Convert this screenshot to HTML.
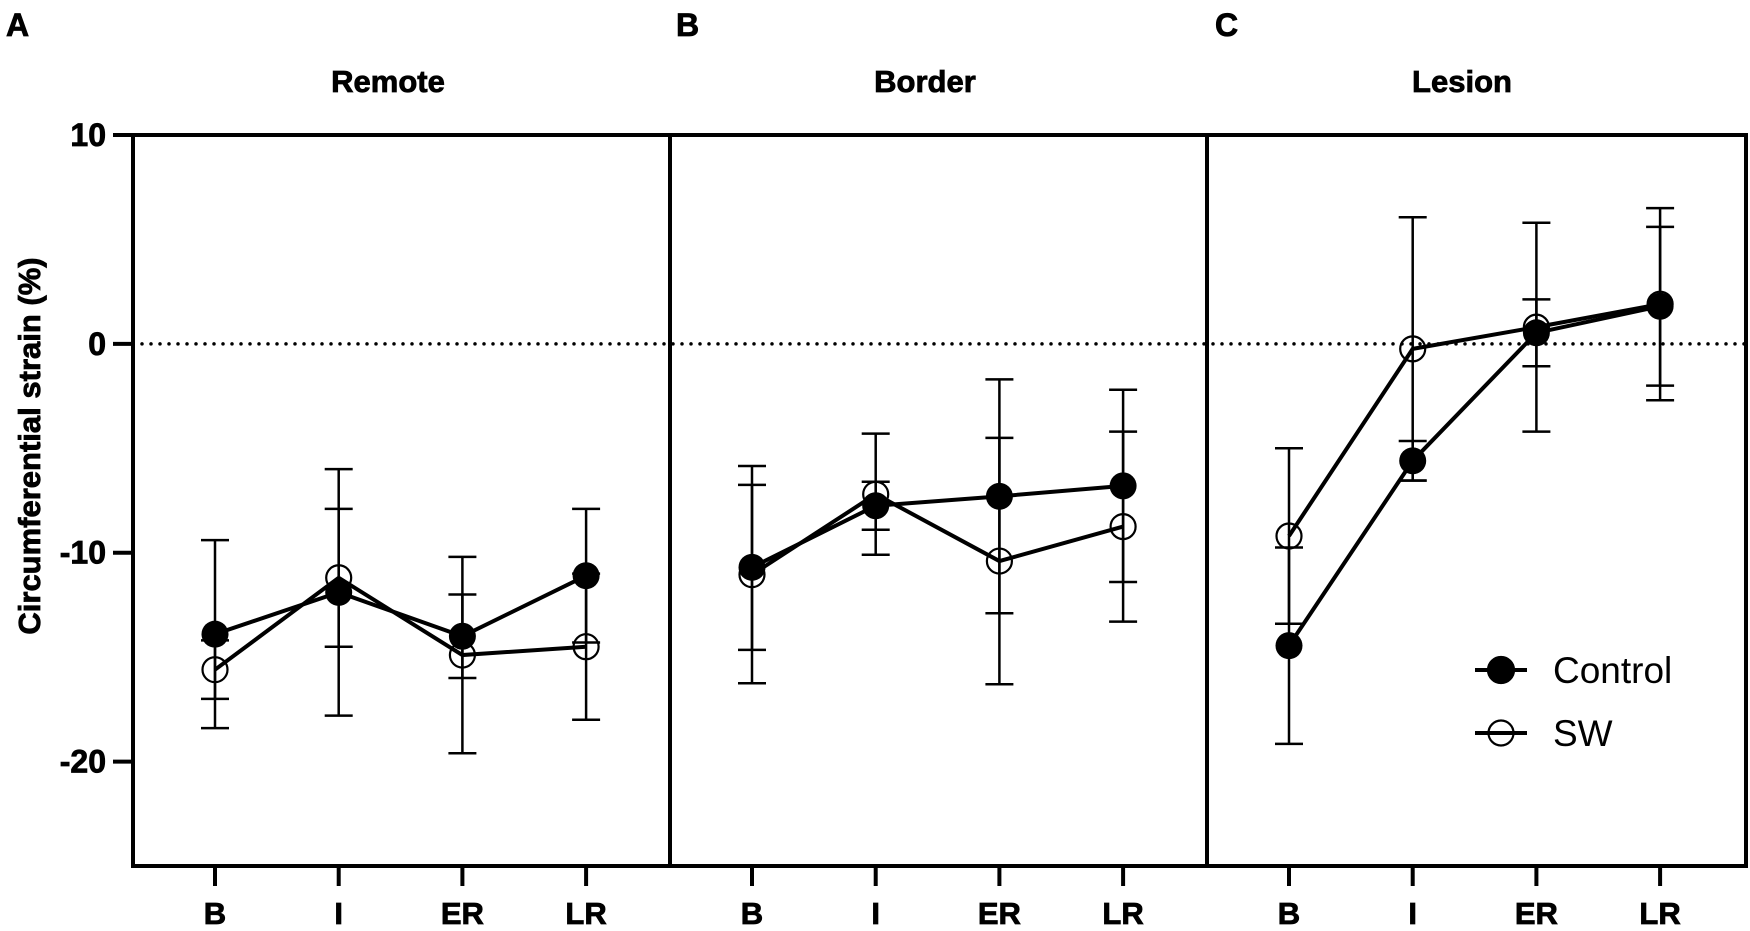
<!DOCTYPE html>
<html><head><meta charset="utf-8">
<style>
html,body{margin:0;padding:0;background:#fff;}
svg{display:block;font-family:"Liberation Sans",Arial,sans-serif;}
</style></head>
<body>
<svg id="chart" width="1750" height="931" viewBox="0 0 1750 931" xmlns="http://www.w3.org/2000/svg"></svg>
<script>
const categories = ["B","I","ER","LR"];
const panelTitles = ["Remote","Border","Lesion"];
const panelLetters = ["A","B","C"];
const yTicks = [10,0,-10,-20];
const controlMeans = [[-13.9,-11.9,-14.0,-11.1],[-10.7,-7.75,-7.3,-6.8],[-14.45,-5.6,0.53,1.8]];
const controlErr   = [[4.5,5.9,2.0,3.2],[3.95,1.15,5.6,4.6],[4.7,0.95,1.6,3.8]];
const swMeans      = [[-15.6,-11.2,-14.9,-14.5],[-11.05,-7.2,-10.4,-8.75],[-9.2,-0.24,0.8,1.9]];
const swErr        = [[1.4,3.3,4.7,3.5],[5.2,2.9,5.9,4.55],[4.2,6.3,5.0,4.6]];

const NS="http://www.w3.org/2000/svg";
const svg=document.getElementById('chart');
const yMin=-25,yMax=10,yTop=135,yBot=866;
function y(v){return yTop+(yMax-v)*(yBot-yTop)/(yMax-yMin);}
const panelLeft=[133,670,1207], panelW=537, step=123.7, off=82;
function x(p,i){return panelLeft[p]+off+i*step;}
function mk(tag,attrs,parent){const e=document.createElementNS(NS,tag);for(const k in attrs)e.setAttribute(k,attrs[k]);(parent||svg).appendChild(e);return e;}
const B={'font-weight':'bold',stroke:'#000','stroke-width':0.8};
function bold(o){return Object.assign({},B,o);}

let zl=mk('line',{x1:133,x2:1746,y1:y(0),y2:y(0),stroke:'#000','stroke-width':3.5,'stroke-dasharray':'0 9','stroke-linecap':'round'});



let fr=mk('path',{d:`M133 ${yTop} H1746 V${yBot} H133 Z M670 ${yTop} V${yBot} M1207 ${yTop} V${yBot}`,fill:'none',stroke:'#000','stroke-width':4});



yTicks.forEach(t=>{
  let l=mk('line',{x1:113,x2:133,y1:y(t),y2:y(t),stroke:'#000','stroke-width':4});
  
  
  let tx=mk('text',bold({x:106,y:y(t)+11,'text-anchor':'end','font-size':32}));
  tx.textContent=t;
  
  
});
let yt=mk('text',bold({transform:'translate(40,446) rotate(-90)','text-anchor':'middle','font-size':31}));
yt.textContent='Circumferential strain (%)';



for(let p=0;p<3;p++){
  let tt=mk('text',bold({x:panelLeft[p]+255,y:92,'text-anchor':'middle','font-size':31}));
  tt.textContent=panelTitles[p];
  
  
  let lt=mk('text',bold({x:[6,676,1215][p],y:36,'font-size':32}));
  lt.textContent=panelLetters[p];
  
  
  categories.forEach((c,i)=>{
    let tk=mk('line',{x1:x(p,i),x2:x(p,i),y1:yBot,y2:886,stroke:'#000','stroke-width':4});
    
    
    let lb=mk('text',bold({x:x(p,i),y:924,'text-anchor':'middle','font-size':31}));
    lb.textContent=c;
    
    
  });
  [[controlMeans,controlErr],[swMeans,swErr]].forEach(([m,e])=>{
    categories.forEach((c,i)=>{
      const cx=x(p,i),hi=y(m[p][i]+e[p][i]),lo=y(m[p][i]-e[p][i]);
      let eb=mk('path',{d:`M${cx} ${hi} V${lo} M${cx-14} ${hi} H${cx+14} M${cx-14} ${lo} H${cx+14}`,stroke:'#000','stroke-width':2.5,fill:'none'});
      
      
    });
  });
  [[swMeans,'sw'],[controlMeans,'control']].forEach(([m,n])=>{
    let pl=mk('polyline',{points:categories.map((c,i)=>x(p,i)+','+y(m[p][i])).join(' '),fill:'none',stroke:'#000','stroke-width':4});
    
    
  });
  categories.forEach((c,i)=>{
    let o=mk('circle',{cx:x(p,i),cy:y(swMeans[p][i]),r:12.5,fill:'none',stroke:'#000','stroke-width':2.2});
    
    
    let f=mk('circle',{cx:x(p,i),cy:y(controlMeans[p][i]),r:13.5,fill:'#000'});
    
    
  });
}
const lg=mk('g',{});


[['Control',670,true],['SW',733,false]].forEach(([n,ly,fill])=>{
  const g=mk('g',{},lg);
  
  
  mk('line',{x1:1475,x2:1527,y1:ly,y2:ly,stroke:'#000','stroke-width':4},g);
  mk('circle',{cx:1501,cy:ly,r:fill?13:12.5,fill:fill?'#000':'none',stroke:'#000','stroke-width':2.2},g);
  const t=mk('text',{x:1553,y:ly+13,'font-size':37},g);
  t.textContent=n;
});
</script>
</body></html>
